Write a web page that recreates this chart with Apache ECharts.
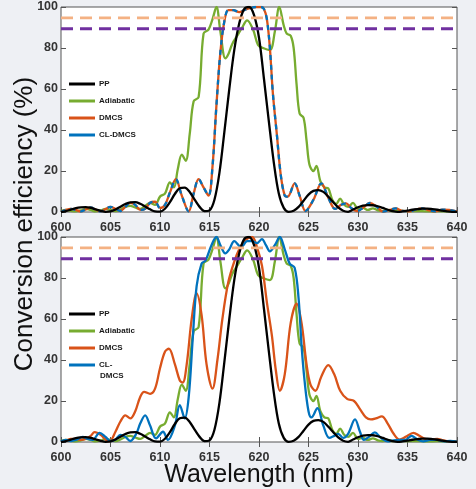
<!DOCTYPE html>
<html><head><meta charset="utf-8">
<script src="https://cdn.jsdelivr.net/npm/echarts@6/dist/echarts.min.js"></script>
<style>html,body{margin:0;padding:0;background:#eef0f4;} #c{width:476px;height:489px;}</style>
</head><body><div id="c"></div>
<script>
// ---- data ----
const seriesNames = ['PP', 'Adiabatic', 'DMCS', 'CL-DMCS'];
const xMin = 600, xMax = 640, xStep = 5;
const yMin = 0, yMax = 100, yStep = 20;
const thresholdValues = [94.7, 89.4];   // light orange, purple dashed lines

// PP (same curve in both panels)
const pp = [[600,0],[600.5,0.4],[601,1.2],[601.5,1.9],[602,2.3],[602.5,2.4],[603,2.0],[603.5,1.3],[604,0.6],[604.5,0.1],[605,0.3],[605.5,1.2],[606,2.6],[606.5,3.9],[607,4.7],[607.5,4.8],[608,4.0],[608.5,2.7],[609,1.3],[609.5,0.3],[610,0.2],[610.5,1.6],[611,4.8],[611.5,8.8],[612,11.6],[612.5,11.9],[613,9.8],[613.5,6],[614,2.5],[614.5,0.4],[615,0.8],[615.5,6],[616,19],[616.5,39],[617,60],[617.5,79],[618,92],[618.5,99],[619,100],[619.5,96],[620,85],[620.5,65],[621,44],[621.5,24],[622,9],[622.5,2],[623,0.1],[623.5,0.6],[624,2.5],[624.5,5.5],[625,8.5],[625.5,10.3],[626,10.7],[626.5,9.8],[627,7.5],[627.5,4.8],[628,2.2],[628.5,0.6],[629,0.1],[629.5,1.2],[630,2.3],[630.5,3.1],[631,3.4],[631.5,3.3],[632,2.8],[632.5,2],[633,1.1],[633.5,0.4],[634,0.05],[634.5,0.3],[635,0.7],[635.5,1.1],[636,1.4],[636.5,1.6],[637,1.6],[637.5,1.4],[638,1.1],[638.5,0.7],[639,0.3],[639.5,0.1],[640,0.1]];

// Adiabatic (same curve in both panels)
const adiabatic = [[600,0.5],[600.5,1],[601,0.6],[601.5,0.3],[602,0.8],[602.5,1.5],[603,1],[603.5,0.3],[604,0.8],[604.5,1.5],[605,1],[605.5,0.4],[606,1.2],[606.5,2.5],[607,3],[607.5,2.2],[608,1.5],[608.5,3],[609,4.5],[609.5,3.5],[610,7.5],[610.5,9],[611,14.5],[611.4,12],[611.8,21],[612.2,28],[612.6,25],[613,38],[613.4,54],[613.9,56],[614.4,87],[614.9,89],[615.3,94],[615.7,100],[616.1,88],[616.6,75],[616.9,77],[617.3,82],[617.8,86],[618.3,90],[618.8,93.5],[619.4,89],[619.9,81.5],[620.4,80],[621.1,79],[621.6,88],[622.05,100],[622.5,91],[622.8,87],[623.2,86],[623.5,80],[623.8,62],[624.1,48],[624.5,46],[624.8,35],[625.1,23],[625.5,20],[625.8,22.5],[626.2,15],[626.6,12],[627,11.5],[627.4,6],[627.8,4],[628.2,6.5],[628.6,3.5],[629,2.5],[629.5,4.5],[630,1.5],[630.5,2],[631,1],[631.5,1.8],[632,0.8],[632.5,0.5],[633,1],[633.5,0.4],[634,0.6],[635,0.4],[636,0.5],[637,0.3],[638,0.4],[639,0.3],[640,0.2]];

// Top panel: DMCS and CL-DMCS overlap
const dmcsTop = [[600,0],[600.5,1],[601,1.5],[601.5,1],[602,0.3],[602.5,1.2],[603,2.2],[603.5,1.2],[604,0.3],[604.5,1.5],[605,2.5],[605.5,1.5],[606,0.5],[606.5,2.5],[607,4.5],[607.5,3.5],[608,1],[608.5,1.5],[609,4.5],[609.5,5],[610,2],[610.5,3.5],[611,9.5],[611.6,16],[612.2,8],[612.9,0.3],[613.4,9],[613.9,16],[614.4,12],[614.9,8],[615.3,22],[615.7,52],[616.1,78],[616.5,93],[616.9,98.5],[617.4,98.5],[618,97.5],[618.5,98.5],[619.1,99.5],[619.7,100],[620.2,100],[620.5,99],[620.8,94],[621.1,80],[621.4,58],[621.8,38],[622.2,18],[622.6,8],[622.9,7.5],[623.6,14],[624.1,8],[624.7,0.5],[625.5,6],[626.3,14],[627,7],[627.7,1.5],[628.3,3.5],[628.8,4.2],[629.3,2],[629.9,0.5],[630.5,2],[631.2,4.5],[631.9,2.5],[632.5,0.2],[633.2,1],[633.8,1.8],[634.5,0.5],[635.2,0.3],[635.8,1.2],[636.5,1.8],[637.2,0.8],[637.8,0.3],[638.5,1.2],[639.2,1],[640,0.2]];
const clDmcsTop = dmcsTop;

// Bottom panel
const dmcsBottom = [[600,0.3],[600.5,0.8],[601,1.5],[601.5,1.5],[602,1],[602.5,1.5],[603,3],[603.4,4.8],[604,3.5],[604.5,1.2],[604.9,0.3],[605.5,5],[606,10],[606.5,13],[607,11.5],[607.5,15],[608,22],[608.4,24.5],[609,23.5],[609.5,26],[610,36],[610.5,44],[610.9,45.5],[611.5,38],[612,30],[612.3,29],[612.7,38],[613.2,60],[613.7,72.5],[614.2,62],[614.7,38],[615.3,26],[615.8,40],[616.3,60],[616.9,78],[617.5,88],[618,94],[618.6,98.5],[619.3,100],[619.8,95],[620.3,86],[620.8,68],[621.3,52],[621.7,35],[622.1,25],[622.6,33],[623.2,58],[623.8,67.5],[624.3,58],[624.8,38],[625.2,28],[625.7,25],[626.3,32],[627,37.5],[627.6,33],[628.2,25],[628.9,21],[629.6,20],[630.2,16],[630.8,12],[631.3,11],[631.8,11.5],[632.4,12.5],[633,9],[633.6,4],[634.2,1.2],[634.8,2.5],[635.6,4.5],[636.2,3],[636.8,1.5],[637.4,1.2],[638,1.5],[638.6,0.8],[639.3,0.3],[640,0.2]];
const clDmcsBottom = [[600,0.3],[600.5,1],[601,0.5],[601.5,1],[602.2,2.5],[602.7,1.5],[603.2,1],[603.9,4.5],[604.5,2.5],[605,0.5],[605.5,1.2],[606,3.5],[606.5,2.5],[607,0.5],[607.6,4],[608,9],[608.5,13],[609,8],[609.6,1.8],[610.3,5],[610.8,1],[611.5,8],[612,18],[612.5,11.5],[612.9,22],[613.3,50],[613.7,76],[614.2,87],[614.6,88.5],[615.2,96],[615.7,100],[616.1,96],[616.6,92],[617,94],[617.5,98],[618.2,95],[618.8,98],[619.3,98],[619.8,97],[620.3,99],[620.7,96],[621.1,93],[621.6,96],[622.1,100],[622.6,94],[623.1,87],[623.6,85],[624,70],[624.3,47],[624.6,30],[625,15],[625.3,12],[625.9,16.5],[626.5,8],[627.1,2],[627.6,3],[628,4],[628.5,2],[629,4],[629.7,11],[630.2,5],[630.6,1],[631.1,2.5],[631.7,4.7],[632.3,2],[633,0.3],[633.6,0.8],[634.2,1],[634.8,1],[635.4,3],[636,1.2],[636.6,0.3],[637.3,1],[638,1],[638.7,0.3],[639.3,0.5],[640,0.2]];

// ---- styling ----
const colors = { 'PP': '#000000', 'Adiabatic': '#77ac30', 'DMCS': '#d95319', 'CL-DMCS': '#0072bd' };
const thresholdColors = ['#f4b183', '#7030a0'];
const FONT = 'Liberation Sans, Arial, sans-serif';

const chart = echarts.init(document.getElementById('c'), null, { renderer: 'canvas' });

const grids = [
  { left: 61, top: 7, width: 396, height: 205 },
  { left: 61, top: 237, width: 396, height: 205 }
];

function xAx(g, pos) {
  return {
    gridIndex: g, type: 'value', min: xMin, max: xMax, interval: xStep, position: pos,
    axisLine: { show: false },
    axisTick: { show: true, inside: true, length: 5, lineStyle: { color: '#555', width: 1 } },
    axisLabel: pos === 'bottom' ? { show: true, margin: 9, fontFamily: FONT, fontWeight: 'bold', fontSize: 12.5, color: '#333' } : { show: false },
    splitLine: { show: false }
  };
}
function yAx(g, pos) {
  return {
    gridIndex: g, type: 'value', min: yMin, max: yMax, interval: yStep, position: pos,
    axisLine: { show: false },
    axisTick: { show: true, inside: true, length: 5, lineStyle: { color: '#555', width: 1 } },
    axisLabel: pos === 'left' ? { show: true, margin: 3, fontFamily: FONT, fontWeight: 'bold', fontSize: 12.5, color: '#333' } : { show: false },
    splitLine: { show: false }
  };
}

function lineSeries(name, data, g, extra) {
  return Object.assign({
    name: name, type: 'line', data: data, xAxisIndex: g * 2, yAxisIndex: g * 2,
    showSymbol: false, symbol: 'none', smooth: 0.35,
    lineStyle: { color: colors[name], width: 2.3 },
    itemStyle: { color: colors[name] },
    emphasis: { disabled: true }, animation: false
  }, extra || {});
}
function thresholdSeries(i, g) {
  return {
    name: 'thr' + i + '_' + g, type: 'line', xAxisIndex: g * 2, yAxisIndex: g * 2,
    data: [[xMin, thresholdValues[i]], [xMax, thresholdValues[i]]],
    symbol: 'none', lineStyle: { color: thresholdColors[i], width: 2.8, type: [12, 7] },
    emphasis: { disabled: true }, animation: false, z: 5
  };
}

const series = [
  // top panel
  lineSeries('Adiabatic', adiabatic, 0),
  lineSeries('DMCS', dmcsTop, 0),
  lineSeries('CL-DMCS', clDmcsTop, 0, { lineStyle: { color: colors['CL-DMCS'], width: 2.3, type: [5, 5] } }),
  lineSeries('PP', pp, 0),
  thresholdSeries(0, 0), thresholdSeries(1, 0),
  // bottom panel
  lineSeries('Adiabatic', adiabatic, 1),
  lineSeries('DMCS', dmcsBottom, 1),
  lineSeries('CL-DMCS', clDmcsBottom, 1),
  lineSeries('PP', pp, 1),
  thresholdSeries(0, 1), thresholdSeries(1, 1)
];

function legendAt(top, fmt) {
  return {
    show: true, orient: 'vertical', left: 69, top: top, padding: 0,
    itemWidth: 26, itemHeight: 3, itemGap: 7, icon: 'rect',
    selectedMode: false,
    data: seriesNames.map(n => ({ name: n, itemStyle: { color: colors[n] } })),
    formatter: fmt,
    textStyle: { fontFamily: FONT, fontWeight: 'bold', fontSize: 8, color: '#1a1a1a', lineHeight: 10, padding: [0, 0, 0, -1] }
  };
}

chart.setOption({
  backgroundColor: '#eef0f4',
  animation: false,
  grid: grids.map(g => Object.assign({ show: true, backgroundColor: '#ffffff', borderColor: '#555', borderWidth: 1 }, g)),
  xAxis: [xAx(0, 'bottom'), xAx(0, 'top'), xAx(1, 'bottom'), xAx(1, 'top')],
  yAxis: [yAx(0, 'left'), yAx(0, 'right'), yAx(1, 'left'), yAx(1, 'right')],
  legend: [
    legendAt(79, n => n),
    legendAt(309, n => (n === 'CL-DMCS' ? 'CL-' : n))
  ],
  graphic: [
    { type: 'text', x: 100, y: 376, style: { text: 'DMCS', font: 'bold 8px ' + FONT, fill: '#1a1a1a', textVerticalAlign: 'middle' } },
    { type: 'text', x: 25, y: 224, rotation: Math.PI / 2,
      style: { text: 'Conversion efficiency (%)', font: '26px ' + FONT, fill: '#111', textAlign: 'center', textVerticalAlign: 'middle' } },
    { type: 'text', x: 259, y: 475,
      style: { text: 'Wavelength (nm)', font: '25px ' + FONT, fill: '#111', textAlign: 'center', textVerticalAlign: 'middle' } }
  ],
  series: series
});
</script>
</body></html>
